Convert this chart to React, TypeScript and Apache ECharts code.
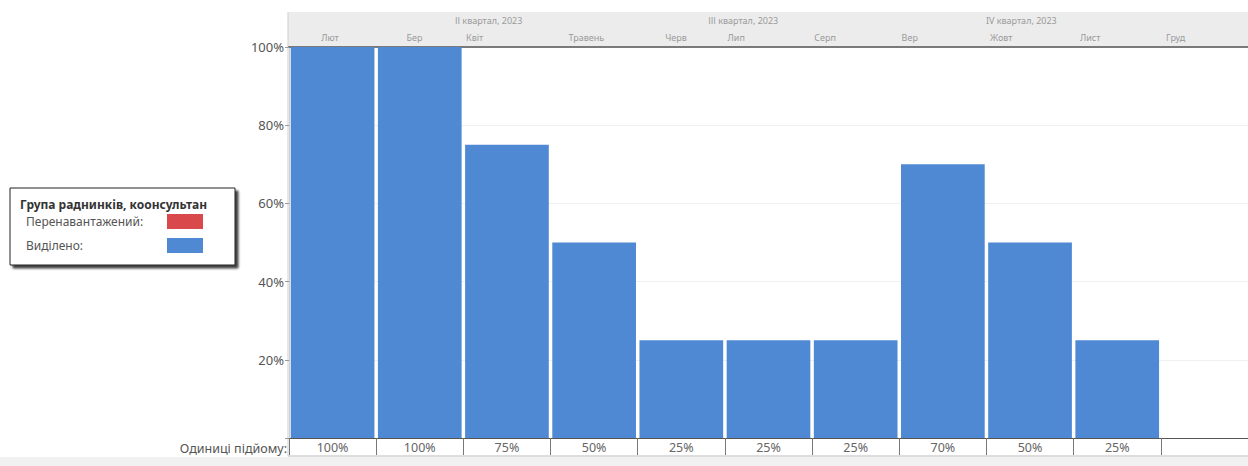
import React, { useEffect, useRef } from "react";
import * as echarts from "echarts";

// Resource load per period (%)
const loadPct = [100, 100, 75, 50, 25, 25, 25, 70, 50, 25];
// Overallocation above 100% per period
const overPct = loadPct.map((v) => Math.max(0, v - 100));
// Bottom table cells: one per period, plus the trailing empty column
const cellLabels = [...loadPct.map((v) => `${v}%`), ""];

// Timescale header: months and quarters, placed in period units along the timeline
const months = ["Лют", "Бер", "Квіт", "Травень", "Черв", "Лип", "Серп", "Вер", "Жовт", "Лист", "Груд"];
const monthPos = [0.47, 1.44, 2.13, 3.41, 4.44, 5.13, 6.15, 7.12, 8.17, 9.19, 10.17];
const quarters = ["ІІ квартал, 2023", "ІІІ квартал, 2023", "IV квартал, 2023"];
const quarterPos = [2.29, 5.21, 8.4];

const yTicks = [0, 20, 40, 60, 80, 100];

const FONT = "'Noto Sans', 'Open Sans', sans-serif";
const BLUE = "#4f89d4";
const RED = "#d9484a";

export default function App() {
  const ref = useRef<HTMLDivElement>(null);

  useEffect(() => {
    if (!ref.current) return;
    const chart = echarts.init(ref.current, undefined, { renderer: "svg" });
    const colW = 87.6;
    chart.setOption({
      animation: false,
      backgroundColor: "#ffffff",
      textStyle: { fontFamily: FONT },
      grid: { left: 289, top: 47, width: colW * cellLabels.length, height: 391 },
      xAxis: [
        {
          type: "category",
          data: cellLabels,
          position: "bottom",
          boundaryGap: true,
          axisLine: { show: true, lineStyle: { color: "#555", width: 1 } },
          axisTick: { show: true, length: 17, interval: 0, lineStyle: { color: "#777" } },
          axisLabel: { interval: 0, margin: 3, fontSize: 12.5, color: "#666", fontFamily: FONT },
          splitLine: { show: false },
        },
        {
          type: "value",
          position: "top",
          min: 0,
          max: cellLabels.length,
          axisLine: { show: true, lineStyle: { color: "#7a7a7a", width: 2 } },
          axisTick: { show: false },
          splitLine: { show: false },
          axisLabel: {
            customValues: monthPos,
            margin: 5,
            fontSize: 9,
            color: "#9a9a9a",
            fontFamily: FONT,
            formatter: (v: number) => months[monthPos.indexOf(v)] ?? "",
          },
        },
        {
          type: "value",
          position: "top",
          offset: 17,
          min: 0,
          max: cellLabels.length,
          axisLine: { show: false },
          axisTick: { show: false },
          splitLine: { show: false },
          axisLabel: {
            customValues: quarterPos,
            margin: 5,
            fontSize: 9,
            color: "#9a9a9a",
            fontFamily: FONT,
            formatter: (v: number) => quarters[quarterPos.indexOf(v)] ?? "",
          },
        },
      ],
      yAxis: {
        type: "value",
        min: yTicks[0],
        max: yTicks[yTicks.length - 1],
        interval: 20,
        axisLine: { show: true, lineStyle: { color: "#cfcfcf" } },
        axisTick: { show: true, length: 4, lineStyle: { color: "#999" } },
        axisLabel: {
          margin: 5,
          fontSize: 13,
          color: "#555",
          fontFamily: FONT,
          formatter: (v: number) => (v === 0 ? "" : `${v}%`),
        },
        splitLine: { show: true, lineStyle: { color: "#f0f0f0" } },
      },
      legend: {
        orient: "vertical",
        left: 10,
        top: 188,
        selectedMode: false,
        align: "right",
        icon: "rect",
        itemWidth: 36,
        itemHeight: 15,
        itemGap: 9,
        padding: [26, 32, 12, 16],
        backgroundColor: "#ffffff",
        borderColor: "#222",
        borderWidth: 1,
        shadowColor: "rgba(0,0,0,0.75)",
        shadowBlur: 2,
        shadowOffsetX: 3,
        shadowOffsetY: 3,
        formatter: (name: string) => `{t|${name}}`,
        textStyle: {
          fontSize: 12,
          color: "#555",
          fontFamily: FONT,
          rich: {
            t: { width: 136, align: "left", fontSize: 12, color: "#555", fontFamily: FONT },
          },
        },
        data: ["Перенавантажений:", "Виділено:"],
      },
      graphic: [
        {
          type: "rect",
          z: -1,
          silent: true,
          shape: { x: 288, y: 12, width: 960, height: 34 },
          style: { fill: "#ececec" },
        },
        {
          type: "line",
          silent: true,
          shape: { x1: 288, y1: 12, x2: 288, y2: 456 },
          style: { stroke: "#cfcfcf", lineWidth: 1 },
        },
        {
          type: "line",
          silent: true,
          shape: { x1: 288, y1: 456, x2: 1248, y2: 456 },
          style: { stroke: "#bbbbbb", lineWidth: 1 },
        },
        {
          type: "rect",
          silent: true,
          shape: { x: 0, y: 457, width: 1248, height: 9 },
          style: { fill: "#f1f1f1" },
        },
        {
          type: "text",
          silent: true,
          x: 287,
          y: 448,
          style: {
            text: "Одиниці підйому:",
            align: "right",
            verticalAlign: "middle",
            fontSize: 12.5,
            fill: "#555",
            fontFamily: FONT,
          },
        },
        {
          type: "text",
          silent: true,
          z: 100,
          x: 20,
          y: 204,
          style: {
            text: "Група раднинків, коонсультан",
            verticalAlign: "middle",
            fontSize: 12,
            fontWeight: "bold",
            fill: "#333",
            fontFamily: FONT,
          },
        },
      ],
      series: [
        {
          name: "Перенавантажений:",
          type: "bar",
          stack: "load",
          xAxisIndex: 0,
          barCategoryGap: "4%",
          itemStyle: { color: RED },
          data: overPct.map((v) => (v > 0 ? v : "-")),
        },
        {
          name: "Виділено:",
          type: "bar",
          stack: "load",
          xAxisIndex: 0,
          barCategoryGap: "4%",
          itemStyle: { color: BLUE },
          data: loadPct.map((v) => Math.min(v, 100)),
        },
      ],
    });
    return () => chart.dispose();
  }, []);

  return (
    <div
      ref={ref}
      style={{ position: "fixed", left: 0, top: 0, width: 1248, height: 466 }}
    />
  );
}
